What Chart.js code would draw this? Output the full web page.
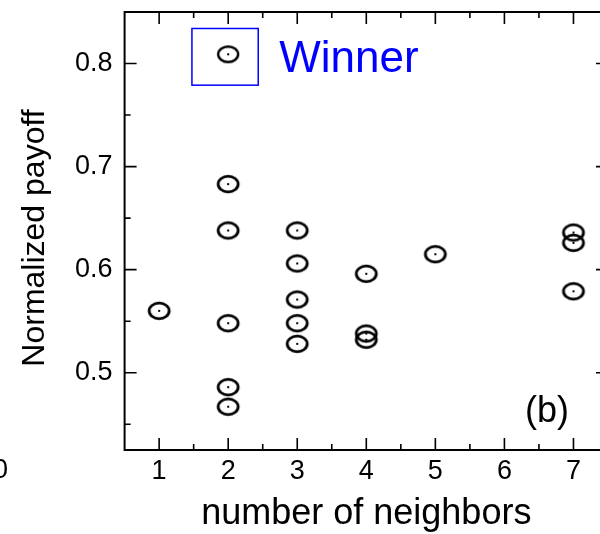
<!DOCTYPE html>
<html>
<head>
<meta charset="utf-8">
<script src="https://cdn.jsdelivr.net/npm/chart.js@4.4.1/dist/chart.umd.min.js"></script>
<style>
  html, body { margin: 0; padding: 0; background: #fff; overflow: hidden; }
  #wrap { position: relative; width: 620px; height: 534px; }
</style>
</head>
<body>
<div id="wrap"><canvas id="myChart"></canvas></div>
<script>
// payoff of each player against its number of neighbors
const neighbors = [1, 2, 2, 2, 2, 2, 3, 3, 3, 3, 3, 4, 4, 4, 5, 7, 7, 7];
const payoffs = [0.560, 0.683, 0.638, 0.548, 0.486, 0.467, 0.638, 0.606, 0.571, 0.548, 0.528,
                 0.596, 0.538, 0.532, 0.615, 0.636, 0.626, 0.579];

const winnerNeighbors = [2];
const winnerPayoffs = [0.809];

const xTicks = [1, 2, 3, 4, 5, 6, 7];
const yTicks = [0.5, 0.6, 0.7, 0.8];
const xMinorTicks = [1.5, 2.5, 3.5, 4.5, 5.5, 6.5];
const yMinorTicks = [0.45, 0.55, 0.65, 0.75];

const FONT = "'Liberation Sans', Arial, sans-serif";

// open ellipse with a dot in the middle
const makeMarker = (lineWidth) => {
    const c = document.createElement('canvas');
    c.width = 26;
    c.height = 22;
    const g = c.getContext('2d');
    g.strokeStyle = '#000';
    g.lineWidth = lineWidth;
    g.beginPath();
    g.ellipse(13, 11, 10, 7.8, 0, 0, Math.PI * 2);
    g.stroke();
    g.fillStyle = '#000';
    g.fillRect(12, 10, 2, 2);
    return c;
};

const toPoints = (xs, ys) => xs.map((x, i) => ({x: x, y: ys[i]}));

const framePlugin = {
    id: 'frame',
    afterDraw(chart) {
        const {ctx, chartArea: a, scales: {x, y}} = chart;
        ctx.save();
        ctx.strokeStyle = '#000';
        ctx.lineWidth = 2;
        ctx.strokeRect(a.left, a.top, a.right - a.left, a.bottom - a.top);

        // inward ticks on all four sides
        ctx.lineWidth = 1.6;
        const xMarks = (vals, len) => vals.forEach(v => {
            const px = x.getPixelForValue(v);
            ctx.beginPath();
            ctx.moveTo(px, a.bottom); ctx.lineTo(px, a.bottom - len);
            ctx.moveTo(px, a.top); ctx.lineTo(px, a.top + len);
            ctx.stroke();
        });
        const yMarks = (vals, len) => vals.forEach(v => {
            const py = y.getPixelForValue(v);
            ctx.beginPath();
            ctx.moveTo(a.left, py); ctx.lineTo(a.left + len, py);
            ctx.moveTo(a.right, py); ctx.lineTo(a.right - len, py);
            ctx.stroke();
        });
        xMarks(xTicks, 12);
        xMarks(xMinorTicks, 6);
        yMarks(yTicks, 12);
        yMarks(yMinorTicks, 6);

        // box round the winner and its label
        const box = {xMin: 1.475, xMax: 2.435, yMin: 0.779, yMax: 0.834};
        const bx1 = x.getPixelForValue(box.xMin), bx2 = x.getPixelForValue(box.xMax);
        const by1 = y.getPixelForValue(box.yMax), by2 = y.getPixelForValue(box.yMin);
        ctx.strokeStyle = '#0000ff';
        ctx.lineWidth = 1.5;
        ctx.strokeRect(bx1, by1, bx2 - bx1, by2 - by1);

        ctx.fillStyle = '#0000ff';
        ctx.font = '44px ' + FONT;
        ctx.textAlign = 'left';
        ctx.textBaseline = 'alphabetic';
        ctx.fillText('Winner', x.getPixelForValue(2.74), y.getPixelForValue(0.792));

        ctx.fillStyle = '#000';
        ctx.font = '36px ' + FONT;
        ctx.fillText('(b)', 525, 422);

        // leftover tick label of the neighbouring panel
        ctx.font = '27px ' + FONT;
        ctx.textAlign = 'right';
        ctx.textBaseline = 'middle';
        ctx.fillText('0', 8, 471);

        // y axis title
        ctx.translate(35, 238);
        ctx.rotate(-Math.PI / 2);
        ctx.textAlign = 'center';
        ctx.font = '32px ' + FONT;
        ctx.fillText('Normalized payoff', 0, 0);
        ctx.restore();
    }
};

const ctx = document.getElementById('myChart').getContext('2d');
new Chart(ctx, {
    type: 'scatter',
    data: {
        datasets: [{
            label: 'players',
            data: toPoints(neighbors, payoffs),
            pointStyle: makeMarker(2.8),
            pointRadius: 11,
            pointHoverRadius: 11
        }, {
            label: 'winner',
            data: toPoints(winnerNeighbors, winnerPayoffs),
            pointStyle: makeMarker(2.4),
            pointRadius: 11,
            pointHoverRadius: 11
        }]
    },
    options: {
        animation: false,
        responsive: true,
        maintainAspectRatio: false,
        layout: {padding: {top: 10, right: 9, left: 0, bottom: 0}},
        plugins: {
            legend: {display: false},
            tooltip: {enabled: false}
        },
        scales: {
            x: {
                type: 'linear',
                min: 0.5,
                max: 7.5,
                afterBuildTicks: scale => { scale.ticks = xTicks.map(v => ({value: v})); },
                afterFit: scale => {
                    scale.height = 84;
                    scale.paddingLeft = 0;
                    scale.paddingRight = 0;
                },
                grid: {display: false, drawTicks: false},
                border: {display: false},
                ticks: {
                    color: '#000',
                    padding: 5,
                    font: {family: FONT, size: 27, lineHeight: 1.2},
                    callback: v => String(v)
                },
                title: {
                    display: true,
                    text: 'number of neighbors',
                    color: '#000',
                    font: {family: FONT, size: 36, lineHeight: 1},
                    padding: {top: 0, bottom: 2}
                }
            },
            y: {
                type: 'linear',
                min: 0.425,
                max: 0.85,
                afterBuildTicks: scale => { scale.ticks = yTicks.map(v => ({value: v})); },
                afterFit: scale => {
                    scale.width = 124.6;
                    scale.paddingTop = 0;
                    scale.paddingBottom = 0;
                },
                grid: {display: false, drawTicks: false},
                border: {display: false},
                ticks: {
                    color: '#000',
                    padding: 12,
                    font: {family: FONT, size: 27},
                    callback: v => v.toFixed(1)
                }
            }
        }
    },
    plugins: [framePlugin]
});
</script>
</body>
</html>
